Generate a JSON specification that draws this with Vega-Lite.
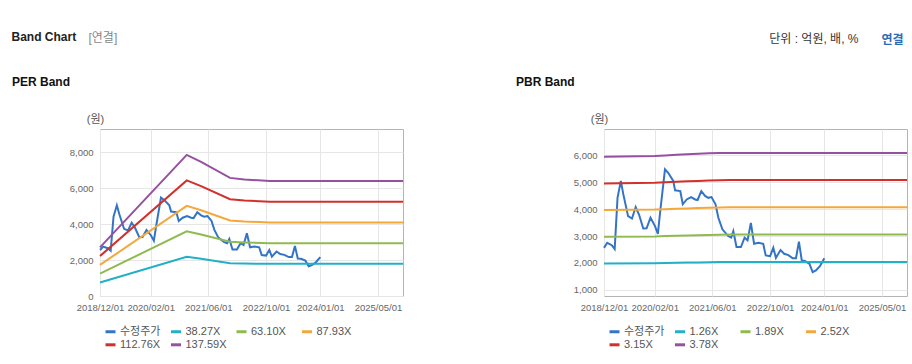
{
  "$schema": "https://vega.github.io/schema/vega-lite/v6.json",
  "padding": {"left": 11, "top": 31, "right": 0, "bottom": 0},
  "background": "white",
  "config": {
    "font": "Liberation Sans, Noto Sans CJK KR, sans-serif",
    "view": {"stroke": "#b4b4b4", "strokeWidth": 1},
    "axis": {"gridColor": "#e6e6e6", "domain": false, "ticks": false, "labelColor": "#666666", "labelFontSize": 9.5, "labelFont": "Liberation Sans, sans-serif", "labelOverlap": false},
    "axisY": {"labelOverlap": false},
    "title": {"font": "Liberation Sans, Noto Sans CJK KR, sans-serif"}
  },
  "datasets": {
    "price": [
      {"d": "2018-12-01", "s": "수정주가", "v": 2560},
      {"d": "2018-12-28", "s": "수정주가", "v": 2750},
      {"d": "2019-02-04", "s": "수정주가", "v": 2660},
      {"d": "2019-03-01", "s": "수정주가", "v": 2520},
      {"d": "2019-03-25", "s": "수정주가", "v": 4420},
      {"d": "2019-04-22", "s": "수정주가", "v": 5050},
      {"d": "2019-05-13", "s": "수정주가", "v": 4550},
      {"d": "2019-06-22", "s": "수정주가", "v": 3740},
      {"d": "2019-07-25", "s": "수정주가", "v": 3650},
      {"d": "2019-08-25", "s": "수정주가", "v": 4080},
      {"d": "2019-09-22", "s": "수정주가", "v": 3800},
      {"d": "2019-10-28", "s": "수정주가", "v": 3280},
      {"d": "2019-11-25", "s": "수정주가", "v": 3290},
      {"d": "2019-12-28", "s": "수정주가", "v": 3680},
      {"d": "2020-02-04", "s": "수정주가", "v": 3370},
      {"d": "2020-02-28", "s": "수정주가", "v": 3080},
      {"d": "2020-03-16", "s": "수정주가", "v": 3800},
      {"d": "2020-04-28", "s": "수정주가", "v": 5480},
      {"d": "2020-05-25", "s": "수정주가", "v": 5350},
      {"d": "2020-07-07", "s": "수정주가", "v": 5050},
      {"d": "2020-07-22", "s": "수정주가", "v": 4700},
      {"d": "2020-09-04", "s": "수정주가", "v": 4670},
      {"d": "2020-09-25", "s": "수정주가", "v": 4180},
      {"d": "2020-10-28", "s": "수정주가", "v": 4360},
      {"d": "2020-12-04", "s": "수정주가", "v": 4450},
      {"d": "2021-01-07", "s": "수정주가", "v": 4360},
      {"d": "2021-01-28", "s": "수정주가", "v": 4340},
      {"d": "2021-02-28", "s": "수정주가", "v": 4670},
      {"d": "2021-04-01", "s": "수정주가", "v": 4490},
      {"d": "2021-04-28", "s": "수정주가", "v": 4420},
      {"d": "2021-05-25", "s": "수정주가", "v": 4450},
      {"d": "2021-06-28", "s": "수정주가", "v": 4180},
      {"d": "2021-07-22", "s": "수정주가", "v": 3680},
      {"d": "2021-08-25", "s": "수정주가", "v": 3250},
      {"d": "2021-10-13", "s": "수정주가", "v": 3000},
      {"d": "2021-11-07", "s": "수정주가", "v": 2940},
      {"d": "2021-11-25", "s": "수정주가", "v": 3180},
      {"d": "2021-12-22", "s": "수정주가", "v": 2590},
      {"d": "2022-01-28", "s": "수정주가", "v": 2590},
      {"d": "2022-02-28", "s": "수정주가", "v": 2940},
      {"d": "2022-03-25", "s": "수정주가", "v": 2840},
      {"d": "2022-04-22", "s": "수정주가", "v": 3490},
      {"d": "2022-05-19", "s": "수정주가", "v": 2710},
      {"d": "2022-06-25", "s": "수정주가", "v": 2750},
      {"d": "2022-08-04", "s": "수정주가", "v": 2710},
      {"d": "2022-08-25", "s": "수정주가", "v": 2280},
      {"d": "2022-10-01", "s": "수정주가", "v": 2250},
      {"d": "2022-10-28", "s": "수정주가", "v": 2560},
      {"d": "2022-11-19", "s": "수정주가", "v": 2190},
      {"d": "2022-12-28", "s": "수정주가", "v": 2480},
      {"d": "2023-01-28", "s": "수정주가", "v": 2340},
      {"d": "2023-03-04", "s": "수정주가", "v": 2290},
      {"d": "2023-04-10", "s": "수정주가", "v": 2170},
      {"d": "2023-05-07", "s": "수정주가", "v": 2170},
      {"d": "2023-06-01", "s": "수정주가", "v": 2790},
      {"d": "2023-06-25", "s": "수정주가", "v": 2090},
      {"d": "2023-07-22", "s": "수정주가", "v": 2070},
      {"d": "2023-08-28", "s": "수정주가", "v": 1970},
      {"d": "2023-09-25", "s": "수정주가", "v": 1660},
      {"d": "2023-10-22", "s": "수정주가", "v": 1720},
      {"d": "2023-11-25", "s": "수정주가", "v": 1880},
      {"d": "2024-01-01", "s": "수정주가", "v": 2170}
    ],
    "perBand": [
      {"d": "2018-12-01", "s": "38.27X", "v": 754},
      {"d": "2020-12-01", "s": "38.27X", "v": 2185},
      {"d": "2021-04-01", "s": "38.27X", "v": 2078},
      {"d": "2021-12-01", "s": "38.27X", "v": 1829},
      {"d": "2022-04-01", "s": "38.27X", "v": 1806},
      {"d": "2022-11-01", "s": "38.27X", "v": 1790},
      {"d": "2025-11-28", "s": "38.27X", "v": 1790},
      {"d": "2018-12-01", "s": "63.10X", "v": 1243},
      {"d": "2020-12-01", "s": "63.10X", "v": 3603},
      {"d": "2021-04-01", "s": "63.10X", "v": 3426},
      {"d": "2021-12-01", "s": "63.10X", "v": 3016},
      {"d": "2022-04-01", "s": "63.10X", "v": 2978},
      {"d": "2022-11-01", "s": "63.10X", "v": 2940},
      {"d": "2025-11-28", "s": "63.10X", "v": 2940},
      {"d": "2018-12-01", "s": "87.93X", "v": 1732},
      {"d": "2020-12-01", "s": "87.93X", "v": 5021},
      {"d": "2021-04-01", "s": "87.93X", "v": 4775},
      {"d": "2021-12-01", "s": "87.93X", "v": 4203},
      {"d": "2022-04-01", "s": "87.93X", "v": 4150},
      {"d": "2022-11-01", "s": "87.93X", "v": 4098},
      {"d": "2025-11-28", "s": "87.93X", "v": 4098},
      {"d": "2018-12-01", "s": "112.76X", "v": 2221},
      {"d": "2020-12-01", "s": "112.76X", "v": 6439},
      {"d": "2021-04-01", "s": "112.76X", "v": 6123},
      {"d": "2021-12-01", "s": "112.76X", "v": 5390},
      {"d": "2022-04-01", "s": "112.76X", "v": 5322},
      {"d": "2022-11-01", "s": "112.76X", "v": 5255},
      {"d": "2025-11-28", "s": "112.76X", "v": 5255},
      {"d": "2018-12-01", "s": "137.59X", "v": 2711},
      {"d": "2020-12-01", "s": "137.59X", "v": 7856},
      {"d": "2021-04-01", "s": "137.59X", "v": 7471},
      {"d": "2021-12-01", "s": "137.59X", "v": 6577},
      {"d": "2022-04-01", "s": "137.59X", "v": 6494},
      {"d": "2022-11-01", "s": "137.59X", "v": 6400},
      {"d": "2025-11-28", "s": "137.59X", "v": 6400}
    ],
    "pbrBand": [
      {"d": "2018-12-01", "s": "1.26X", "v": 1983},
      {"d": "2020-02-01", "s": "1.26X", "v": 1991},
      {"d": "2020-05-01", "s": "1.26X", "v": 1998},
      {"d": "2020-08-01", "s": "1.26X", "v": 2006},
      {"d": "2020-11-01", "s": "1.26X", "v": 2014},
      {"d": "2021-02-01", "s": "1.26X", "v": 2020},
      {"d": "2021-05-01", "s": "1.26X", "v": 2025},
      {"d": "2021-08-01", "s": "1.26X", "v": 2030},
      {"d": "2021-11-01", "s": "1.26X", "v": 2035},
      {"d": "2025-11-28", "s": "1.26X", "v": 2035},
      {"d": "2018-12-01", "s": "1.89X", "v": 2975},
      {"d": "2020-02-01", "s": "1.89X", "v": 2986},
      {"d": "2020-05-01", "s": "1.89X", "v": 2998},
      {"d": "2020-08-01", "s": "1.89X", "v": 3009},
      {"d": "2020-11-01", "s": "1.89X", "v": 3020},
      {"d": "2021-02-01", "s": "1.89X", "v": 3030},
      {"d": "2021-05-01", "s": "1.89X", "v": 3040},
      {"d": "2021-08-01", "s": "1.89X", "v": 3050},
      {"d": "2021-11-01", "s": "1.89X", "v": 3060},
      {"d": "2025-11-28", "s": "1.89X", "v": 3060},
      {"d": "2018-12-01", "s": "2.52X", "v": 3966},
      {"d": "2020-02-01", "s": "2.52X", "v": 3982},
      {"d": "2020-05-01", "s": "2.52X", "v": 3997},
      {"d": "2020-08-01", "s": "2.52X", "v": 4012},
      {"d": "2020-11-01", "s": "2.52X", "v": 4027},
      {"d": "2021-02-01", "s": "2.52X", "v": 4040},
      {"d": "2021-05-01", "s": "2.52X", "v": 4050},
      {"d": "2021-08-01", "s": "2.52X", "v": 4060},
      {"d": "2021-11-01", "s": "2.52X", "v": 4070},
      {"d": "2025-11-28", "s": "2.52X", "v": 4070},
      {"d": "2018-12-01", "s": "3.15X", "v": 4958},
      {"d": "2020-02-01", "s": "3.15X", "v": 4977},
      {"d": "2020-05-01", "s": "3.15X", "v": 4996},
      {"d": "2020-08-01", "s": "3.15X", "v": 5015},
      {"d": "2020-11-01", "s": "3.15X", "v": 5034},
      {"d": "2021-02-01", "s": "3.15X", "v": 5050},
      {"d": "2021-05-01", "s": "3.15X", "v": 5062},
      {"d": "2021-08-01", "s": "3.15X", "v": 5072},
      {"d": "2021-11-01", "s": "3.15X", "v": 5080},
      {"d": "2025-11-28", "s": "3.15X", "v": 5080},
      {"d": "2018-12-01", "s": "3.78X", "v": 5950},
      {"d": "2020-02-01", "s": "3.78X", "v": 5972},
      {"d": "2020-05-01", "s": "3.78X", "v": 5995},
      {"d": "2020-08-01", "s": "3.78X", "v": 6018},
      {"d": "2020-11-01", "s": "3.78X", "v": 6040},
      {"d": "2021-02-01", "s": "3.78X", "v": 6059},
      {"d": "2021-05-01", "s": "3.78X", "v": 6074},
      {"d": "2021-08-01", "s": "3.78X", "v": 6086},
      {"d": "2021-11-01", "s": "3.78X", "v": 6090},
      {"d": "2025-11-28", "s": "3.78X", "v": 6090}
    ]
  },
  "title": {"text": "Band Chart", "anchor": "start", "fontSize": 12, "fontWeight": "bold", "color": "#222222", "offset": 0, "dy": 12},
  "vconcat": [
    {
      "title": {"text": "[연결]", "anchor": "start", "dx": 77, "offset": 0, "dy": 12, "fontSize": 12, "fontWeight": "normal", "color": "#888888"},
      "vconcat": [
        {
          "title": {"text": "단위 : 억원, 배, %", "anchor": "end", "dx": -53, "offset": 0, "dy": 12, "fontSize": 12, "fontWeight": "normal", "color": "#333333"},
          "vconcat": [
            {
              "title": {"text": "연결", "anchor": "end", "dx": -8, "offset": 28.5, "fontSize": 12, "fontWeight": "bold", "color": "#2d6db5"},
              "resolve": {"scale": {"color": "independent"}, "legend": {"color": "independent"}},
              "spacing": 107,
              "hconcat": [
                {
                  "width": 303,
                  "height": 167,
                  "title": {"text": "PER Band", "anchor": "start", "frame": "group", "dx": -88, "offset": 24, "fontSize": 12, "fontWeight": "bold", "color": "#111111"},
                  "layer": [
                    {
                      "data": {"name": "price"},
                      "mark": {"type": "line", "strokeWidth": 2},
                      "encoding": {
                        "x": {"field": "d", "type": "temporal", "scale": {"type": "utc", "domain": [{"year": 2018, "month": 12, "date": 1, "utc": true}, {"year": 2025, "month": 11, "date": 28, "utc": true}]},
                          "axis": {"title": null, "format": "%Y/%m/%d", "labelFlush": false, "labelOverlap": false, "labelPadding": 6.5, "grid": true,
                            "values": [{"year": 2018, "month": 12, "date": 1, "utc": true}, {"year": 2020, "month": 2, "date": 1, "utc": true}, {"year": 2021, "month": 6, "date": 1, "utc": true}, {"year": 2022, "month": 10, "date": 1, "utc": true}, {"year": 2024, "month": 1, "date": 1, "utc": true}, {"year": 2025, "month": 5, "date": 1, "utc": true}]}},
                        "y": {"field": "v", "type": "quantitative", "scale": {"domain": [0, 9300], "nice": false, "zero": false},
                          "axis": {"values": [0, 2000, 4000, 6000, 8000], "format": ",.0f", "labelOverlap": false, "grid": true, "labelPadding": 7, "title": "(원)", "titleAngle": 0, "titleX": -5, "titleY": -10, "titleAlign": "center", "titleBaseline": "middle", "titleFontSize": 11, "titleFontWeight": "normal", "titleColor": "#555555"}},
                        "color": {"field": "s", "type": "nominal",
                          "scale": {"domain": ["수정주가", "38.27X", "63.10X", "87.93X", "112.76X", "137.59X"], "range": ["#3474c6", "#21b0c6", "#8fba50", "#f5a83a", "#d2302a", "#95519f"]},
                          "legend": {"orient": "none", "legendX": 4, "legendY": 196, "direction": "horizontal", "columns": 4, "symbolType": "stroke", "symbolSize": 100, "symbolStrokeWidth": 3, "labelFontSize": 11, "labelColor": "#555555", "title": null, "gridAlign": "all", "columnPadding": 3.5, "rowPadding": 0.3, "labelOffset": 3}}
                      }
                    },
                    {
                      "data": {"name": "perBand"},
                      "mark": {"type": "line", "strokeWidth": 2},
                      "encoding": {
                        "x": {"field": "d", "type": "temporal"},
                        "y": {"field": "v", "type": "quantitative", "axis": {"values": [0, 2000, 4000, 6000, 8000], "labelOverlap": false}},
                        "color": {"field": "s", "type": "nominal"}
                      }
                    }
                  ]
                },
                {
                  "width": 303,
                  "height": 167,
                  "title": {"text": "PBR Band", "anchor": "start", "frame": "group", "dx": -88, "offset": 24, "fontSize": 12, "fontWeight": "bold", "color": "#111111"},
                  "layer": [
                    {
                      "data": {"name": "price"},
                      "mark": {"type": "line", "strokeWidth": 2},
                      "encoding": {
                        "x": {"field": "d", "type": "temporal", "scale": {"type": "utc", "domain": [{"year": 2018, "month": 12, "date": 1, "utc": true}, {"year": 2025, "month": 11, "date": 28, "utc": true}]},
                          "axis": {"title": null, "format": "%Y/%m/%d", "labelFlush": false, "labelOverlap": false, "labelPadding": 6.5, "grid": true,
                            "values": [{"year": 2018, "month": 12, "date": 1, "utc": true}, {"year": 2020, "month": 2, "date": 1, "utc": true}, {"year": 2021, "month": 6, "date": 1, "utc": true}, {"year": 2022, "month": 10, "date": 1, "utc": true}, {"year": 2024, "month": 1, "date": 1, "utc": true}, {"year": 2025, "month": 5, "date": 1, "utc": true}]}},
                        "y": {"field": "v", "type": "quantitative", "scale": {"domain": [770, 6980], "nice": false, "zero": false},
                          "axis": {"values": [1000, 2000, 3000, 4000, 5000, 6000], "format": ",.0f", "labelOverlap": false, "grid": true, "labelPadding": 7, "title": "(원)", "titleAngle": 0, "titleX": -5, "titleY": -10, "titleAlign": "center", "titleBaseline": "middle", "titleFontSize": 11, "titleFontWeight": "normal", "titleColor": "#555555"}},
                        "color": {"field": "s", "type": "nominal",
                          "scale": {"domain": ["수정주가", "1.26X", "1.89X", "2.52X", "3.15X", "3.78X"], "range": ["#3474c6", "#21b0c6", "#8fba50", "#f5a83a", "#d2302a", "#95519f"]},
                          "legend": {"orient": "none", "legendX": 4, "legendY": 196, "direction": "horizontal", "columns": 4, "symbolType": "stroke", "symbolSize": 100, "symbolStrokeWidth": 3, "labelFontSize": 11, "labelColor": "#555555", "title": null, "gridAlign": "all", "columnPadding": 3.5, "rowPadding": 0.3, "labelOffset": 3}}
                      }
                    },
                    {
                      "data": {"name": "pbrBand"},
                      "mark": {"type": "line", "strokeWidth": 2},
                      "encoding": {
                        "x": {"field": "d", "type": "temporal"},
                        "y": {"field": "v", "type": "quantitative", "axis": {"values": [1000, 2000, 3000, 4000, 5000, 6000], "labelOverlap": false}},
                        "color": {"field": "s", "type": "nominal"}
                      }
                    }
                  ]
                }
              ]
            }
          ]
        }
      ]
    }
  ]
}
